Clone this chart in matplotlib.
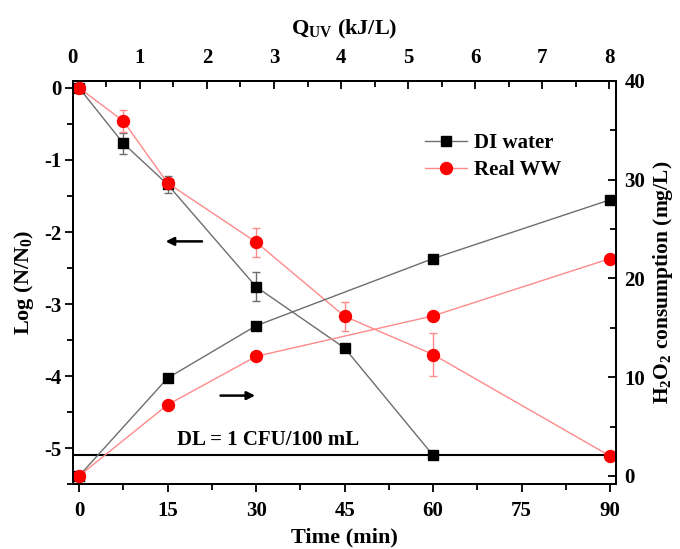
import matplotlib.pyplot as plt
from matplotlib.lines import Line2D
import numpy as np

plt.rcParams['font.family'] = ['Liberation Serif', 'DejaVu Serif']
plt.rcParams['font.weight'] = 'bold'
plt.rcParams['axes.unicode_minus'] = False
plt.rcParams['mathtext.fontset'] = 'custom'
plt.rcParams['mathtext.rm'] = 'Liberation Serif:bold'
plt.rcParams['mathtext.it'] = 'Liberation Serif:bold'
plt.rcParams['mathtext.bf'] = 'Liberation Serif:bold'

# inactivation, log(N/N0)
time_log = [0, 7.5, 15, 30, 45, 60]
di_log = [0, -0.77, -1.34, -2.76, -3.61, -5.10]
di_log_err = [0.05, 0.15, 0.12, 0.20, 0.05, 0.0]

time_log_ww = [0, 7.5, 15, 30, 45, 60, 90]
ww_log = [0, -0.46, -1.32, -2.14, -3.17, -3.70, -5.11]
ww_log_err = [0.05, 0.15, 0.07, 0.20, 0.20, 0.30, 0.05]

# H2O2 consumption (mg/L)
time_h2o2 = [0, 15, 30, 60, 90]
di_h2o2 = [0, 9.9, 15.2, 22.0, 27.95]
ww_h2o2 = [0, 7.2, 12.1, 16.2, 22.0]

dl_value = -5.1

fig = plt.figure(figsize=(6.8, 5.49), dpi=100)
ax = fig.add_axes([0.107, 0.118, 0.799, 0.735])
ax2 = ax.twinx()
ax3 = ax.twiny()

gray = '#6e6e6e'
red = '#ff0000'
lred = '#ff8a8a'

ax.errorbar(time_log, di_log, yerr=di_log_err, color=gray, lw=1.0, marker='s',
            ms=7.7, mfc='black', mec='black', ecolor=gray, capsize=3, elinewidth=1,
            zorder=3)
ax.errorbar(time_log_ww, ww_log, yerr=ww_log_err, color=lred, lw=1.0, marker='o',
            ms=8.6, mfc=red, mec=red, ecolor=lred, capsize=3, elinewidth=1,
            zorder=4)

l1, = ax2.plot(time_h2o2, di_h2o2, color=gray, lw=1.0, marker='s', ms=7.7,
               mfc='black', mec='black', zorder=3, label='DI water')
l2, = ax2.plot(time_h2o2, ww_h2o2, color=lred, lw=1.0, marker='o', ms=8.6,
               mfc=red, mec=red, zorder=4, label='Real WW')

ax.axhline(dl_value, color='black', lw=1.5, zorder=2)
ax.text(32, dl_value + 0.07, 'DL = 1 CFU/100 mL', ha='center', va='bottom',
        fontsize=15, fontweight='bold')

ax.annotate('', xy=(14.2, -2.13), xytext=(21.3, -2.13),
            arrowprops=dict(arrowstyle='-|>', color='black', lw=1.8, mutation_scale=12))
ax.annotate('', xy=(30.3, -4.27), xytext=(23.5, -4.27),
            arrowprops=dict(arrowstyle='-|>', color='black', lw=1.8, mutation_scale=12))

ax.set_xlim(-1.07, 91)
ax.set_ylim(-5.5, 0.1)
ax2.set_ylim(-0.84, 40)
ax3.set_xlim(0, 8.1)

ax.set_xticks(np.arange(0, 91, 15))
ax.set_xticks(np.arange(0, 91, 7.5), minor=True)
ax.set_yticks(np.arange(-5, 0.5, 1))
ax.set_yticks(np.arange(-5.5, 0.1, 0.5), minor=True)
ax2.set_yticks(np.arange(0, 41, 10))
ax2.set_yticks(np.arange(0, 41, 5), minor=True)
ax3.set_xticks(np.arange(0, 9, 1))
ax3.set_xticks(np.arange(0, 8.1, 0.5), minor=True)

ax.tick_params(axis='x', which='major', direction='out', length=6, width=1.3, labelsize=15, pad=6)
ax.tick_params(axis='y', which='major', direction='out', length=6, width=1.3, labelsize=15, pad=2)
ax.tick_params(axis='both', which='minor', direction='out', length=4, width=1.3)
ax2.tick_params(axis='y', which='major', direction='in', length=6, width=1.3, labelsize=15, pad=6)
ax2.tick_params(axis='y', which='minor', direction='in', length=4, width=1.3)
ax3.tick_params(axis='x', which='major', direction='in', length=6, width=1.3, labelsize=15, pad=9)
ax3.tick_params(axis='x', which='minor', direction='in', length=4, width=1.3)

for a in (ax, ax2, ax3):
    for s in a.spines.values():
        s.set_linewidth(1.3)

ax.set_xlabel('Time (min)', fontsize=16, fontweight='bold', labelpad=5)
ax.set_ylabel(r'Log (N/N$_0$)', fontsize=16, fontweight='bold', labelpad=6)
ax2.set_ylabel(r'H$_2$O$_2$ consumption (mg/L)', fontsize=15.5, fontweight='bold', labelpad=4)
ax3.set_xlabel(r'Q$_{\mathrm{UV}}$ (kJ/L)', fontsize=16, fontweight='bold', labelpad=10)

leg = ax2.legend(handles=[l1, l2], loc='upper left', bbox_to_anchor=(425 / 680, 1 - 133 / 549),
                 bbox_transform=fig.transFigure, frameon=False, fontsize=15,
                 handlelength=2.0, handletextpad=0.35, borderpad=0, borderaxespad=0,
                 labelspacing=0.35)

fig.savefig('out.png', dpi=100)
